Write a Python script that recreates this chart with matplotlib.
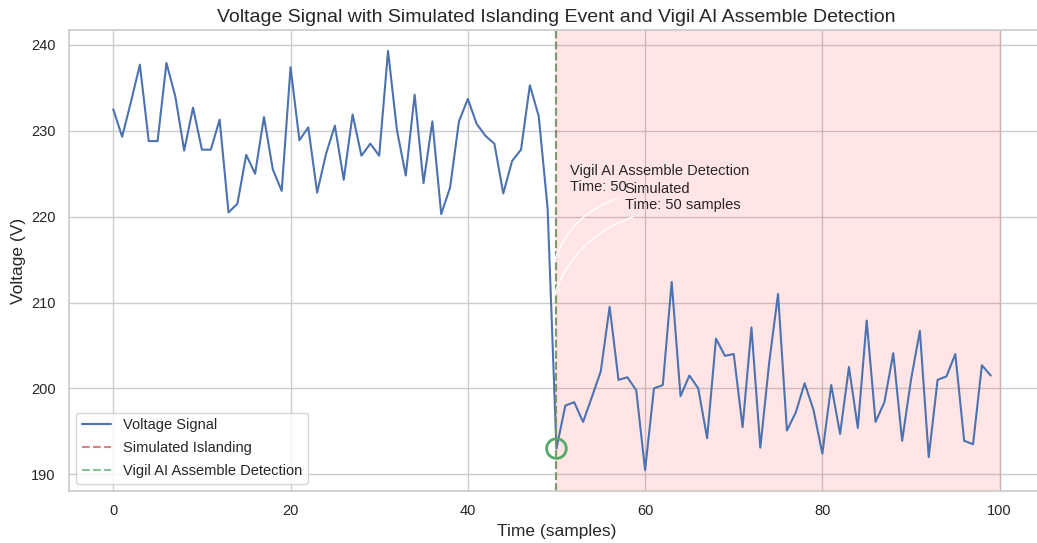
import numpy as np
import matplotlib
matplotlib.use('Agg')
import matplotlib.pyplot as plt
import seaborn as sns

sns.set_theme(style='whitegrid')
plt.rcParams['font.family'] = ['Liberation Sans', 'DejaVu Sans']

# voltage readings, one per sample
voltage = [
    232.5, 229.3, 233.4, 237.7, 228.8, 228.8, 237.9, 234.0, 227.7, 232.7,
    227.8, 227.8, 231.3, 220.5, 221.5, 227.2, 225.0, 231.6, 225.5, 223.0,
    237.4, 228.9, 230.4, 222.8, 227.3, 230.6, 224.3, 231.9, 227.1, 228.5,
    227.1, 239.3, 230.1, 224.8, 234.2, 223.9, 231.1, 220.3, 223.4, 231.1,
    233.7, 230.8, 229.4, 228.5, 222.7, 226.5, 227.8, 235.3, 231.7, 221.0,
    193.0, 198.0, 198.4, 196.1, 199.0, 202.0, 209.5, 201.0, 201.3, 199.8,
    190.5, 200.0, 200.4, 212.4, 199.1, 201.5, 200.0, 194.2, 205.8, 203.8,
    204.0, 195.5, 207.1, 193.1, 203.0, 211.0, 195.1, 197.2, 200.6, 197.5,
    192.4, 200.4, 194.7, 202.5, 195.4, 207.9, 196.1, 198.4, 204.1, 193.9,
    201.0, 206.7, 192.0, 201.0, 201.4, 204.0, 193.9, 193.5, 202.7, 201.5,
]
time = np.arange(len(voltage))
islanding_time = 50
detection_time = 50
end_time = 100

fig = plt.figure(figsize=(10.37, 5.43), dpi=100)
ax = fig.add_axes([0.0665, 0.0958, 0.9402, 0.849])

ax.plot(time, voltage, label='Voltage Signal', color='b', linewidth=1.5)
ax.axvline(islanding_time, color='r', linestyle='--', alpha=0.7, label='Simulated Islanding')
ax.axvline(detection_time, color='g', linestyle='--', alpha=0.7, label='Vigil AI Assemble Detection')
ax.axvspan(islanding_time, end_time, color='red', alpha=0.1)
ax.scatter([detection_time], [voltage[detection_time]], s=200, facecolors='none',
           edgecolors='g', linewidths=2, zorder=5)

# annotations with white curved arrows
ax.text(51.5, 222.6, f'Vigil AI Assemble Detection\nTime: {detection_time}',
        fontsize=10.5, ha='left', va='bottom', color='#262626')
ax.text(57.7, 220.5, f'Simulated\nTime: {islanding_time} samples',
        fontsize=10.5, ha='left', va='bottom', color='#262626')
ax.annotate('', xy=(49.6, 214.5), xytext=(57.3, 222.3),
            arrowprops=dict(arrowstyle='->', color='white', connectionstyle='arc3,rad=0.25'))
ax.annotate('', xy=(49.6, 210.5), xytext=(59.0, 220.1),
            arrowprops=dict(arrowstyle='->', color='white', connectionstyle='arc3,rad=0.25'))

ax.set_xlim(-5, 105)
ax.set_title('Voltage Signal with Simulated Islanding Event and Vigil AI Assemble Detection',
             fontsize=14, color='#262626')
ax.set_xlabel('Time (samples)', fontsize=12.5, color='#262626')
ax.set_ylabel('Voltage (V)', fontsize=12.5, color='#262626')
ax.tick_params(labelsize=10.5)
ax.legend(loc='lower left', fontsize=10.5, labelspacing=0.6)

plt.savefig('out.png', dpi=100)
